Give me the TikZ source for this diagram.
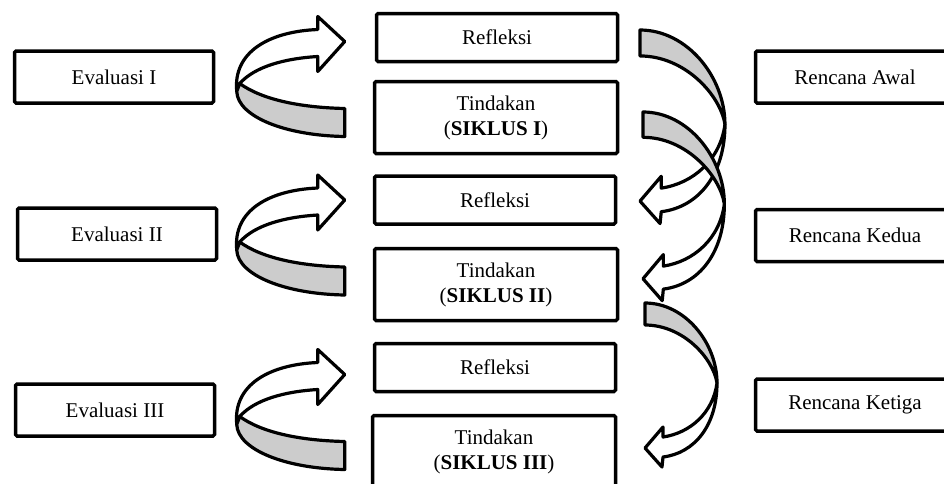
\documentclass[tikz,border=0pt]{standalone}
\usepackage{fontspec}
\setmainfont{Liberation Serif}
\usetikzlibrary{positioning,calc}
\definecolor{ribbongray}{gray}{0.8}

\tikzset{
  stage/.style={draw,line width=3.5pt,rounded corners=1.5pt,fill=white,
    align=center,inner sep=0pt,font=\fontsize{21}{25}\selectfont},
  sidebox/.style={stage,minimum width=199pt,minimum height=52pt},
  reflbox/.style={stage,minimum width=241pt,minimum height=48pt},
  actbox/.style={stage,minimum width=243pt,minimum height=72pt},
  ribbon/.style={draw,line width=3.2pt,line join=round},
  %% curved arrow on the left, origin at its tip
  turnleft/.pic={
    \filldraw[ribbon,fill=white]
      (-108,50) .. controls (-112,10) and (-75,-10) .. (-27,-12)
      -- (-27,-25) -- (0,0) -- (-27,30) -- (-27,15)
      .. controls (-60,17) and (-90,25) .. (-105,42) -- cycle;
    \filldraw[ribbon,fill=ribbongray]
      (-105,42) .. controls (-83,58) and (-45,66) .. (0,67)
      -- (0,95) .. controls (-60,94) and (-107,75) .. (-108,50) -- cycle;
  },
  %% curved arrow on the right, origin at the top of its tail
  turnright/.pic={
    \filldraw[ribbon,fill=ribbongray]
      (0,0) .. controls (40,0) and (72,40) .. (72,80)
      .. controls (68,55) and (38,22) .. (0,22) -- cycle;
    \filldraw[ribbon,fill=white]
      (72,80) .. controls (72,122) and (50,150) .. (18,154)
      -- (17,164) -- (0,145) -- (18,124) -- (18,134)
      .. controls (45,130) and (68,110) .. (72,80) -- cycle;
  }
}

\begin{document}
\begin{tikzpicture}[x=1pt,y=-1pt]
  \useasboundingbox (0,0) rectangle (944,483);

  %% ---- evaluation boxes (left) ----
  \node[sidebox] (eval1) at (114,77) {Evaluasi I};
  \node[sidebox] (eval2) at (117,234) {Evaluasi II};
  \node[sidebox] (eval3) at (115,410) {Evaluasi III};

  %% ---- cycle column (middle) ----
  \node[reflbox] (refl1) at (497,37.5) {Refleksi};
  \node[actbox]  (act1)  at (496,117.5) {Tindakan\\(\textbf{SIKLUS I})};
  \node[reflbox] (refl2) at (495,200) {Refleksi};
  \node[actbox]  (act2)  at (496,284.5) {Tindakan\\(\textbf{SIKLUS II})};
  \node[reflbox] (refl3) at (495,367.5) {Refleksi};
  \node[actbox]  (act3)  at (494,451.5) {Tindakan\\(\textbf{SIKLUS III})};

  %% ---- plan boxes (right) ----
  \node[sidebox] (plan1) at (855,77) {Rencana Awal};
  \node[sidebox] (plan2) at (855,235.5) {Rencana Kedua};
  \node[sidebox] (plan3) at (855,405) {Rencana Ketiga};

  %% ---- curved arrows, left side ----
  \pic at ($(refl1.west)+(-30,4)$) {turnleft};
  \pic at ($(refl2.west)+(-28,0)$) {turnleft};
  \pic at ($(refl3.west)+(-28,7)$) {turnleft};

  %% ---- curved arrows, right side ----
  \pic[scale=1.18] at (640,30) {turnright};
  \pic[xscale=1.13,yscale=1.15] at (643,112) {turnright};
  \pic at (645,303) {turnright};
\end{tikzpicture}
\end{document}
